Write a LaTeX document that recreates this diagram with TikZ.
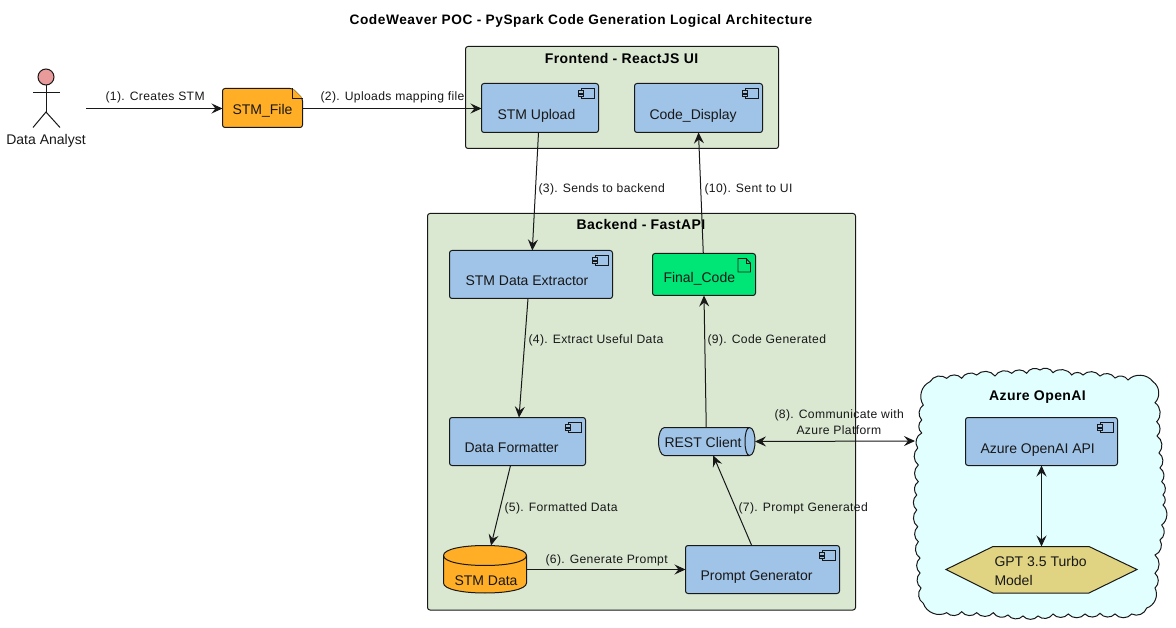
\documentclass[tikz,border=0pt]{standalone}
\usepackage{fontspec}
\setmainfont{Liberation Sans}
\usetikzlibrary{arrows.meta}
\definecolor{groupgreen}{HTML}{DAE8D2}
\definecolor{compblue}{HTML}{A0C4E8}
\definecolor{fileorange}{HTML}{FFAE26}
\definecolor{codegreen}{HTML}{00E676}
\definecolor{actorpink}{HTML}{E99A9A}
\definecolor{cloudcyan}{HTML}{E2FFFF}
\definecolor{hexyellow}{HTML}{E0D381}
\definecolor{ink}{HTML}{181818}
\tikzset{
  x=1pt,y=-1pt,
  groupbox/.style={draw=ink,fill=groupgreen,rounded corners=2.5pt,outer sep=0pt},
  compbox/.style={draw=ink,fill=compblue,rounded corners=2.5pt,inner sep=0pt,outer sep=0pt},
  bare/.style={inner sep=0pt,outer sep=0pt},
  nodetext/.style={anchor=base west,inner sep=0pt,font=\fontsize{14}{16}\selectfont,text=ink},
  linklabel/.style={anchor=base west,inner sep=0pt,font=\fontsize{12.15}{15}\selectfont\addfontfeatures{LetterSpace=3},text=ink},
  grouptitle/.style={anchor=base,inner sep=0pt,font=\fontsize{14}{16}\selectfont\bfseries\addfontfeatures{LetterSpace=3},text=black},
  link/.style={draw=ink,line width=1pt,-{Stealth[length=11pt,width=10pt,inset=4pt]}},
  biglink/.style={link,{Stealth[length=11pt,width=10pt,inset=4pt]}-{Stealth[length=11pt,width=10pt,inset=4pt]}},
}
\newcommand{\compnode}[8]{% name, x1,y1,x2,y2, textx, texty, text
  \node[compbox,minimum width=#4pt-#2pt,minimum height=#5pt-#3pt] (#1) at ({(#2+#4)/2},{(#3+#5)/2}) {};
  \draw[ink,line width=0.9pt] ({#4-17.5},{#3+5}) rectangle ({#4-4.5},{#3+15});
  \draw[ink,line width=0.9pt,fill=compblue] ({#4-20},{#3+7}) rectangle ({#4-15},{#3+9.5});
  \draw[ink,line width=0.9pt,fill=compblue] ({#4-20},{#3+10.5}) rectangle ({#4-15},{#3+13});
  \node[nodetext] (#1text) at (#6,#7) {#8};
}
\begin{document}
\begin{tikzpicture}[line width=1pt]
\useasboundingbox (0,0) rectangle (1176,628);
\fill[white] (0,0) rectangle (1176,628);

\node[anchor=base,inner sep=0pt,font=\fontsize{13.7}{15}\selectfont\bfseries\addfontfeatures{LetterSpace=4},text=black] (title) at (581,24.5) {CodeWeaver POC - PySpark Code Generation Logical Architecture};

% groups
\node[groupbox,minimum width=313pt,minimum height=102pt] (frontend) at (622,97.5) {};
\node[grouptitle] (frontendtitle) at (621.5,64) {Frontend - ReactJS UI};
\node[groupbox,minimum width=428pt,minimum height=396.5pt] (backend) at (641.5,411.75) {};
\node[grouptitle] (backendtitle) at (641,230) {Backend - FastAPI};

% cloud
\draw[ink,fill=cloudcyan]
  (930,381.7)
  \foreach \cx/\cy in {946.7/378.3,961.7/378.3,976.7/375,995/376,1011.7/373.3,1026.7/373.3,1040/370,
    1053/372.7,1071.7/375,1083/375,1100/376,1115/378,1128/380,1153/381.7,
    1155/402.7,1156.7/421.7,1157/436,1159/453,1160/468,1161.7/481.7,1163/495,
    1163/505,1161.7/525,1160/540,1155/555,1155/573.3,1155/588,1146.7/608,
    1131.7/614,1115/614,1100/613.3,1085/614,1068.3/614,1053/614,1038/616,1023/616,1008/615,
    993.3/612.7,976.7/612.7,961.7/611.7,946.7/612.7,923.3/603.3,
    921/588,920/573,920/558,918.3/541.7,917.7/526.7,916.7/510,916.7/495,
    918.3/481.7,918.3/465,917.7/448,921.7/433,921.7/420,923.3/405,930/381.7}
  { to[bend left=50] (\cx,\cy) } -- cycle;
\coordinate (azure) at (915,441);
\node[grouptitle] (azuretitle) at (1037.5,400) {Azure OpenAI};

% actor
\node[draw=ink,fill=actorpink,circle,minimum size=16pt,inner sep=0pt,outer sep=0pt] (analysthead) at (46,77) {};
\coordinate (analysthip) at (46,112);
\draw[ink] (analysthead.south) -- (analysthip);
\draw[ink] (33,93) -- (60,93);
\draw[ink] (33,127.5) -- (analysthip) -- (60,127.5);
\node[anchor=base,inner sep=0pt,font=\fontsize{14}{16}\selectfont,text=ink] (analyst) at (46,144.5) {Data Analyst};
\coordinate (analystout) at (86,108.5);

% STM file
\draw[ink,fill=fileorange,rounded corners=2.5pt] (222.5,88.5) -- (292.5,88.5) -- (302.5,98.5) -- (302.5,127.5) -- (222.5,127.5) -- cycle;
\draw[ink,fill=fileorange] (292.5,88.5) -- (292.5,98.5) -- (302.5,98.5);
\node[bare,minimum width=80pt,minimum height=39pt] (stmfile) at (262.5,108) {};
\node[nodetext] (stmfiletext) at (232,115) {STM\_File};

% components
\compnode{upload}{481.5}{83.5}{598.5}{132.5}{497}{120}{STM Upload}
\compnode{display}{634.5}{83.5}{762.5}{132.5}{649}{120}{Code\_Display}
\compnode{extractor}{449.5}{250.5}{612.5}{298.5}{465}{286}{STM Data Extractor}
\compnode{formatter}{449.5}{417.5}{585.5}{465.5}{464}{452}{Data Formatter}
\compnode{prompt}{685.5}{545.5}{839.5}{593.5}{700}{580}{Prompt Generator}
\compnode{azureapi}{965.5}{417.5}{1117.5}{465.5}{980}{453}{Azure OpenAI API}

% final code
\draw[ink,fill=codegreen,rounded corners=2.5pt] (652.5,253.5) rectangle (755.5,295.5);
\node[bare,minimum width=103pt,minimum height=42pt] (final) at (704,274.5) {};
\draw[ink,line width=0.9pt] (738,258.5) -- (746,258.5) -- (750.5,263) -- (750.5,272) -- (738,272) -- cycle;
\draw[ink,line width=0.9pt] (746,258.5) -- (746,263) -- (750.5,263);
\node[nodetext] (finaltext) at (663,283) {Final\_Code};

% rest client
\draw[ink,fill=compblue] (664.5,427.5) -- (749.5,427.5) .. controls (753,427.5) and (755,434) .. (755,441.5) .. controls (755,449) and (753,455.5) .. (749.5,455.5) -- (664.5,455.5) .. controls (661,455.5) and (658.5,449) .. (658.5,441.5) .. controls (658.5,434) and (661,427.5) .. (664.5,427.5) -- cycle;
\draw[ink] (749.5,427.5) .. controls (746.5,427.5) and (745,434) .. (745,441.5) .. controls (745,449) and (746.5,455.5) .. (749.5,455.5);
\node[bare,minimum width=96.5pt,minimum height=28pt] (rest) at (706.75,441.5) {};
\node[nodetext] (resttext) at (664,447) {REST Client};

% STM data
\draw[ink,fill=fileorange] (443.5,555.5) .. controls (443.5,549) and (463,545.5) .. (485,545.5) .. controls (507,545.5) and (526.5,549) .. (526.5,555.5) -- (526.5,583) .. controls (526.5,589.5) and (507,593) .. (485,593) .. controls (463,593) and (443.5,589.5) .. (443.5,583) -- cycle;
\draw[ink] (443.5,555.5) .. controls (443.5,562) and (463,565.5) .. (485,565.5) .. controls (507,565.5) and (526.5,562) .. (526.5,555.5);
\node[bare,minimum width=83pt,minimum height=47.5pt] (stmdata) at (485,569.25) {};
\node[nodetext] (stmdatatext) at (454,585) {STM Data};

% model
\draw[ink,fill=hexyellow] (946,569.5) -- (993,546.5) -- (1089,546.5) -- (1137,569.5) -- (1089,593) -- (993,593) -- cycle;
\node[bare,minimum width=96pt,minimum height=46.5pt] (model) at (1041,569.75) {};
\node[nodetext,align=left] (modeltext1) at (994,566) {GPT 3.5 Turbo};
\node[nodetext] (modeltext2) at (994,585) {Model};

% connectors
\draw[link] (analystout) -- (stmfile.west |- analystout);
\draw[link] (stmfile.east |- analystout) -- (upload.west |- analystout);
\draw[link] ([xshift=-1.5pt]upload.south) -- ([xshift=1.3pt]extractor.north);
\draw[link] ([xshift=-3pt]extractor.south) -- ([xshift=1.5pt]formatter.north);
\draw[link] ([xshift=-7pt]formatter.south) -- ([xshift=6pt]stmdata.north);
\draw[link] (stmdata.east |- 0,569.5) -- (prompt.west);
\draw[link] ([xshift=-10.8pt]prompt.north) -- ([xshift=6.5pt]rest.south);
\draw[link] ([xshift=-0.5pt]rest.north) -- (final.south);
\draw[link] ([xshift=-0.7pt]final.north) -- (display.south);
\draw[biglink] (rest.east) -- (azure);
\draw[biglink] (azureapi.south -| 1041.5,0) -- (model.north -| 1041.5,0);

% labels
\node[linklabel] (l1) at (105,101) {(1). Creates STM};
\node[linklabel] (l2) at (320,101) {(2). Uploads mapping file};
\node[linklabel] (l3) at (538,193) {(3). Sends to backend};
\node[linklabel] (l4) at (528,344) {(4). Extract Useful Data};
\node[linklabel] (l5) at (504,511) {(5). Formatted Data};
\node[linklabel] (l6) at (545,563) {(6). Generate Prompt};
\node[linklabel] (l7) at (738,511) {(7). Prompt Generated};
\node[linklabel] (l8a) at (774,418) {(8). Communicate with};
\node[linklabel] (l8b) at (796,435) {Azure Platform};
\node[linklabel] (l9) at (707,344) {(9). Code Generated};
\node[linklabel] (l10) at (704,193) {(10). Sent to UI};
\end{tikzpicture}
\end{document}
